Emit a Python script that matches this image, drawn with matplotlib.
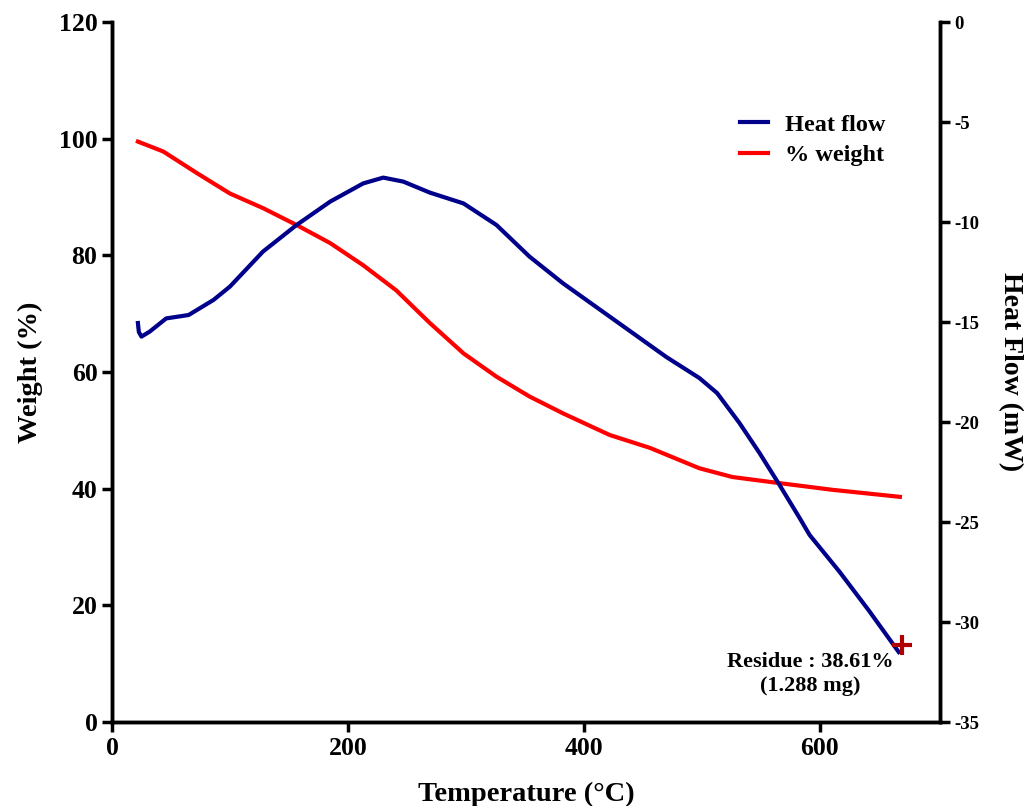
import numpy as np
import matplotlib.pyplot as plt

plt.rcParams['font.family'] = ['Liberation Serif', 'DejaVu Serif']
plt.rcParams['font.weight'] = 'bold'
plt.rcParams['axes.unicode_minus'] = False

# weight loss curve (% weight vs temperature)
w_temp = [22, 43.5, 72, 100, 128, 156.5, 185, 213, 241, 269.5, 298, 326, 354,
          382.5, 422, 456, 498, 526, 564, 611, 668]
w_pct = [99.5, 97.8, 94.1, 90.6, 88.1, 85.2, 82.1, 78.3, 74.0, 68.4, 63.2, 59.2,
         55.8, 52.9, 49.2, 47.0, 43.5, 42.0, 41.0, 39.8, 38.6]

# heat flow curve (mW vs temperature)
hf_temp = [22, 22.8, 25, 32, 46, 65, 86, 100, 128, 156.5, 185, 213, 230, 247,
           269.5, 298, 326, 354, 382.5, 422, 470, 498, 513, 532, 549, 566, 583,
           591.5, 617, 642, 667]
hf_mw = [-15.05, -15.5, -15.73, -15.48, -14.82, -14.65, -13.9, -13.23, -11.48,
         -10.15, -8.98, -8.07, -7.78, -7.98, -8.53, -9.07, -10.15, -11.73, -13.07,
         -14.73, -16.75, -17.8, -18.55, -20.05, -21.55, -23.15, -24.8, -25.65,
         -27.5, -29.45, -31.5]

residue_pt = (670, -31.15)
residue_txt = 'Residue : 38.61%\n(1.288 mg)'


def style(ax):
    for s in ax.spines.values():
        s.set_linewidth(2.5)
    ax.spines['top'].set_visible(False)
    ax.tick_params(width=2.5, length=7)


def main():
    fig = plt.figure(figsize=(10.30, 8.06), dpi=100)
    ax = fig.add_axes([0.1087, 0.1042, 0.8039, 0.8685])
    ax2 = ax.twinx()

    lr, = ax.plot(w_temp, w_pct, color='#ff0000', lw=3, label='% weight',
                  solid_joinstyle='round')
    lb, = ax2.plot(hf_temp, hf_mw, color='#00008b', lw=3, label='Heat flow',
                   solid_joinstyle='round')
    ax2.plot(*residue_pt, marker='+', color='#b00000', ms=14, mew=3)
    ax2.text(592, -32.6, residue_txt, ha='center', va='center',
             fontsize=16, fontweight='bold', linespacing=1.25)

    ax.set_xlim(0, 702)
    ax.set_ylim(0, 120)
    ax.set_xticks([0, 200, 400, 600])
    ax.set_yticks(np.arange(0, 121, 20))
    ax2.set_ylim(-35, 0)
    ax2.set_yticks(np.arange(-35, 1, 5))

    for a in (ax, ax2):
        style(a)
    ax.tick_params(labelsize=18.5)
    ax2.tick_params(labelsize=13.5)

    ax.set_xlabel('Temperature (°C)', fontsize=20.5, fontweight='bold',
                  labelpad=16)
    ax.set_ylabel('Weight (%)', fontsize=20.5, fontweight='bold', labelpad=11)
    ax2.set_ylabel('Heat Flow (mW)', fontsize=20, fontweight='bold',
                   rotation=270, labelpad=31)

    ax2.legend(handles=[lb, lr], loc='upper right', bbox_to_anchor=(0.96, 0.90),
               frameon=False, prop={'size': 17.5, 'weight': 'bold'},
               handlelength=1.15, handletextpad=0.7, labelspacing=0.35)

    fig.savefig('out.png', dpi=100)


if __name__ == '__main__':
    main()
